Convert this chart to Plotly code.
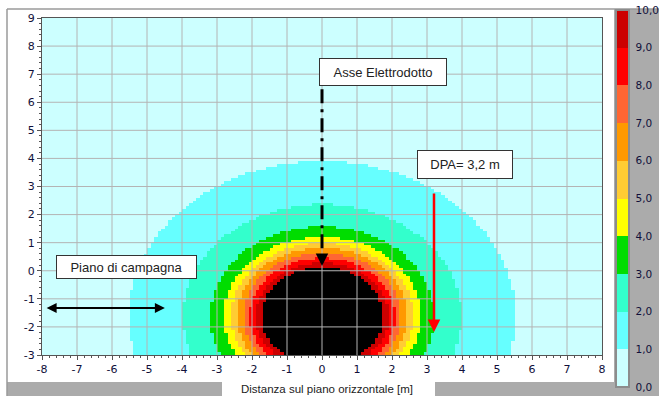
import numpy as np
import plotly.graph_objects as go

# Magnetic induction map around a buried cable line [µT]
levels = [1, 2, 3, 4, 5, 6, 7, 8, 9, 10]
level_radius = [5.52, 3.98, 3.2, 2.82, 2.6, 2.43, 2.25, 2.08, 1.9, 1.74]  # m from cable axis
cable_x, cable_y = 0.0, -1.62
cell = 0.1

band_colors = ["#CCFFFF", "#66FFFF", "#33FFCC", "#00DD00", "#FFFF00",
               "#FFCC33", "#FF9900", "#FF6633", "#FF0000", "#CC0000"]
over_color = "#000000"
cbar_values = [0, 1, 2, 3, 4, 5, 6, 7, 8, 9, 10]
cbar_labels = ["0,0", "1,0", "2,0", "3,0", "4,0", "5,0", "6,0", "7,0", "8,0", "9,0", "10,0"]

x_ticks = list(range(-8, 9))
y_ticks = list(range(-3, 10))

dpa = 3.2
dpa_arrow_top, dpa_arrow_tip = 2.8, -2.18
axis_top, axis_tip = 7.5, 0.17
ground_y, ground_x0, ground_x1 = -1.33, -7.91, -4.49

# ---- grid of field bands ----
xc = np.arange(-8 + cell / 2, 8, cell)
yc = np.arange(-3 + cell / 2, 9, cell)
X, Y = np.meshgrid(xc, yc)
R = np.hypot(X - cable_x, Y - cable_y)
Z = np.zeros_like(R)
for r in level_radius:
    Z += (R <= r)

all_colors = band_colors + [over_color]
n = len(all_colors)
heat_scale = []
for i, c in enumerate(all_colors):
    heat_scale += [[i / n, c], [(i + 1) / n, c]]
bar_scale = []
for i, c in enumerate(band_colors):
    bar_scale += [[i / len(band_colors), c], [(i + 1) / len(band_colors), c]]

# pixel -> paper helpers (plot area 42..602 x 18..355)
L, Rr, T, B = 42, 602, 18, 355
W, H = 659, 396
def px(v):
    return (v - L) / (Rr - L)
def py(v):
    return (B - v) / (B - T)

fig = go.Figure()
fig.add_trace(go.Heatmap(x=xc, y=yc, z=Z, colorscale=heat_scale, zmin=-0.5, zmax=n - 0.5,
                         showscale=False, hoverinfo="skip"))

# grid lines drawn over the map
gx, gy = [], []
for v in x_ticks[1:-1]:
    gx += [v, v, None]; gy += [y_ticks[0], y_ticks[-1], None]
for v in y_ticks[1:-1]:
    gx += [x_ticks[0], x_ticks[-1], None]; gy += [v, v, None]
fig.add_trace(go.Scatter(x=gx, y=gy, mode="lines", line=dict(color="#B4B4B4", width=1),
                         hoverinfo="skip", showlegend=False))

# line axis (dash-dot)
fig.add_trace(go.Scatter(x=[cable_x, cable_x], y=[axis_top, axis_tip + 0.4], mode="lines",
                         line=dict(color="black", width=3, dash="14px,6px,3px,6px"),
                         hoverinfo="skip", showlegend=False))

# colorbar
fig.add_trace(go.Scatter(x=[0], y=[-20], mode="markers", showlegend=False, hoverinfo="skip",
                         marker=dict(color=[0], colorscale=bar_scale, cmin=0, cmax=10, showscale=True,
                                     colorbar=dict(x=px(616), xanchor="left", xpad=0,
                                                   y=py(10), yanchor="top", ypad=0,
                                                   lenmode="pixels", len=377, thickness=13,
                                                   outlinewidth=2, outlinecolor="#8C8C8C",
                                                   tickvals=cbar_values, ticktext=cbar_labels,
                                                   ticks="outside", ticklen=4, tickcolor="rgba(0,0,0,0)",
                                                   ticklabelposition="outside",
                                                   tickfont=dict(family="DejaVu Sans", size=10.5, color="#10103A")))))

ann_font = dict(family="Liberation Sans, Arial", size=13, color="#222222")
annotations = [
    dict(x=1.74, y=7.08, text="Asse Elettrodotto", showarrow=False, font=ann_font,
         bgcolor="white", bordercolor="#333333", borderwidth=1, borderpad=4, width=118, height=18),
    dict(x=4.09, y=3.78, text="DPA= %s m" % str(dpa).replace(".", ","), showarrow=False, font=ann_font,
         bgcolor="white", bordercolor="#333333", borderwidth=1, borderpad=4, width=86, height=19),
    dict(x=-5.59, y=0.13, text="Piano di campagna", showarrow=False, font=ann_font,
         bgcolor="white", bordercolor="#333333", borderwidth=1, borderpad=3, width=133, height=16),
    dict(x=dpa, y=dpa_arrow_tip, ax=dpa, ay=dpa_arrow_top, axref="x", ayref="y", text="",
         showarrow=True, arrowcolor="#FF0000", arrowwidth=2.5, arrowhead=2, arrowsize=1),
    dict(x=ground_x1, y=ground_y, ax=ground_x0, ay=ground_y, axref="x", ayref="y", text="",
         showarrow=True, arrowside="end+start", arrowcolor="black", arrowwidth=2, arrowhead=2, arrowsize=1),
    dict(x=cable_x, y=axis_tip, ax=cable_x, ay=axis_tip + 0.45, axref="x", ayref="y", text="",
         showarrow=True, arrowcolor="black", arrowwidth=2.5, arrowhead=2, arrowsize=1),
    dict(x=px(327), y=py(389), xref="paper", yref="paper", xanchor="center", yanchor="middle",
         text="Distanza sul piano orizzontale [m]", showarrow=False,
         font=dict(family="Liberation Sans, Arial", size=11.5, color="#222222")),
]

gray = "#ABABAB"
shapes = [
    dict(type="rect", xref="paper", yref="paper", x0=px(614), x1=px(W), y0=py(9), y1=py(W), fillcolor=gray,
         line=dict(width=0), layer="below"),
    dict(type="rect", xref="paper", yref="paper", x0=px(7), x1=px(222), y0=py(382), y1=py(W), fillcolor=gray,
         line=dict(width=0), layer="below"),
    dict(type="rect", xref="paper", yref="paper", x0=px(435), x1=px(614), y0=py(382), y1=py(W), fillcolor=gray,
         line=dict(width=0), layer="below"),
    dict(type="line", xref="paper", yref="paper", x0=px(7), x1=px(W), y0=py(9), y1=py(9),
         line=dict(color="#9A9A9A", width=1.5), layer="below"),
    dict(type="line", xref="paper", yref="paper", x0=px(7), x1=px(7), y0=py(9), y1=py(W),
         line=dict(color="#9A9A9A", width=1.5), layer="below"),
]

tick_font = dict(family="DejaVu Sans", size=11, color="#10103A")
fig.update_layout(
    width=W, height=H,
    margin=dict(l=L, r=W - Rr, t=T, b=H - B, autoexpand=False),
    paper_bgcolor="white", plot_bgcolor="white",
    showlegend=False,
    annotations=annotations, shapes=shapes,
    xaxis=dict(range=[-8, 8], tickmode="array", tickvals=x_ticks, ticktext=[str(v) for v in x_ticks],
               ticks="outside", ticklen=4, tickcolor="#555555", showgrid=False, zeroline=False,
               showline=True, linecolor="#555555", linewidth=1, mirror=True, tickfont=tick_font,
               minor=dict(dtick=0.2, ticks="outside", ticklen=2, tickcolor="#555555", showgrid=False)),
    yaxis=dict(range=[-3, 9], tickmode="array", tickvals=y_ticks, ticktext=[str(v) for v in y_ticks],
               ticks="outside", ticklen=4, tickcolor="#555555", showgrid=False, zeroline=False,
               showline=True, linecolor="#555555", linewidth=1, mirror=True, tickfont=tick_font,
               minor=dict(dtick=0.2, ticks="outside", ticklen=2, tickcolor="#555555", showgrid=False)),
)

fig.write_html("out.html")
